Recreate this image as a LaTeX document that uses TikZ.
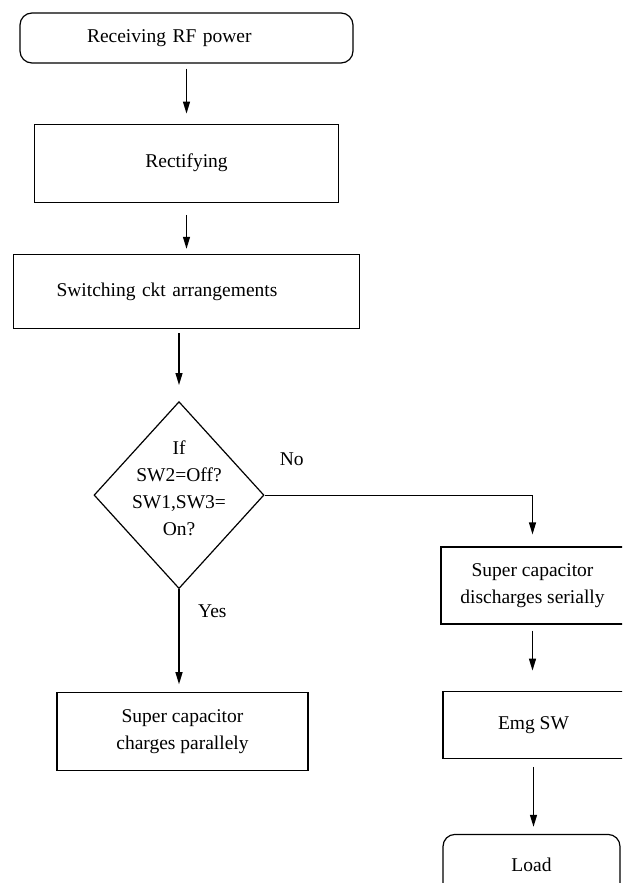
\documentclass[tikz,border=0pt]{standalone}
\usepackage{fontspec}
\setmainfont{Liberation Serif}
\usetikzlibrary{shapes.geometric, arrows.meta, positioning}

\begin{document}
\begin{tikzpicture}[x=1pt, y=-1pt, node distance=50pt,
  every node/.style={font=\fontsize{19.5}{27}\selectfont},
  term/.style={rectangle, draw, line width=1.2pt, rounded corners=12pt, minimum height=50pt},
  block/.style={rectangle, draw, line width=1.2pt, align=center},
  decision/.style={diamond, draw, line width=1.2pt, aspect=0.92, inner sep=0pt, minimum width=170pt, minimum height=187pt},
  lbl/.style={inner sep=3pt},
  line/.style={draw, line width=1.2pt, -{Triangle[length=12pt,width=7pt]}}]

  \useasboundingbox (0,0) rectangle (622,883);
  \clip (0,0) rectangle (622,883);

  \node [term, minimum width=333pt, text width=199pt, align=left] (recv) at (186.5,38) {Receiving RF power};
  \node [block, below=60pt of recv, minimum width=304pt, minimum height=78pt] (rect) {Rectifying};
  \node [block, below=51pt of rect, minimum width=346pt, minimum height=74pt, text width=260pt, align=left] (switch) {Switching ckt arrangements};
  \node [decision, below=72pt of switch, xshift=-7.5pt] (dec) {\smash{\begin{tabular}{c}If\\SW2=Off?\\SW1,SW3=\\On?\end{tabular}}};
  \node [block, below=103pt of dec, xshift=3.5pt, minimum width=251pt, minimum height=78pt] (charge) {Super capacitor\\charges parallely};
  \node [block, minimum width=183pt, minimum height=77pt] (dis) at (532.5,585.5) {Super capacitor\\discharges serially};
  \node [block, below=66pt of dis, xshift=1pt, minimum width=181pt, minimum height=67pt] (emg) {Emg SW};
  \node [term, below=75pt of emg, xshift=-2pt, minimum width=177pt, minimum height=60pt] (load) {Load};

  \node [lbl, above right=26pt and 12pt of dec.east] (no) {No};
  \node [lbl, below right=12pt and 16pt of dec.south] (yes) {Yes};

  \draw [line, shorten <=5pt, shorten >=10pt] (recv) -- (rect);
  \draw [line, shorten <=12pt, shorten >=5pt] (rect) -- (switch);
  \draw [line, shorten <=4pt, shorten >=16pt] (switch.south -| dec.north) -- (dec.north);
  \draw [line, shorten >=8pt] (dec.south) -- (dec.south |- charge.north);
  \draw [line, shorten >=12pt] (dec.east) -| (dis.north);
  \draw [line, shorten <=6pt, shorten >=20pt] (dis.south) -- (dis.south |- emg.north);
  \draw [line, shorten <=8pt, shorten >=7pt] (emg.south) -- (emg.south |- load.north);
\end{tikzpicture}
\end{document}
